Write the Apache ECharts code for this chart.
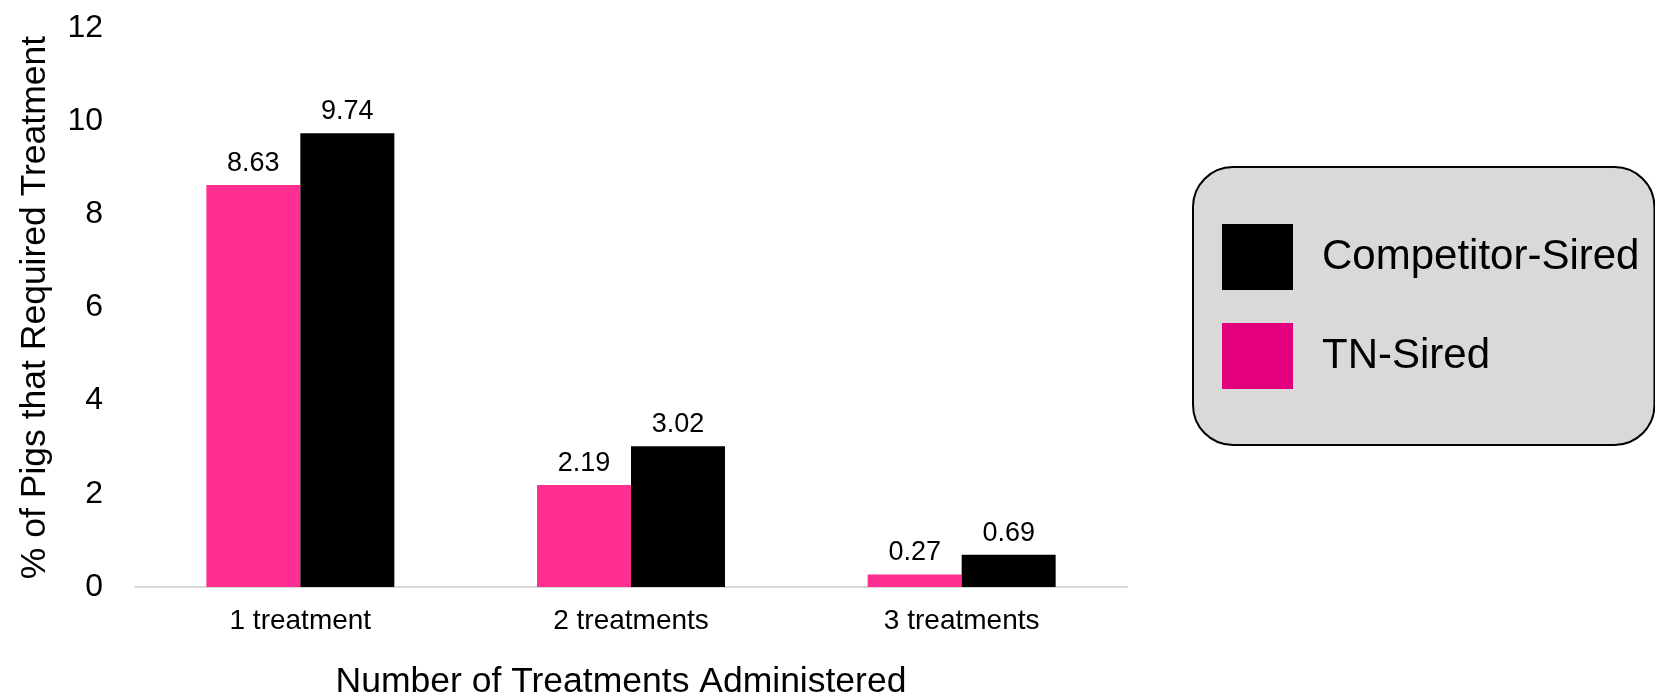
<!DOCTYPE html>
<html>
<head>
<meta charset="utf-8">
<script src="https://cdn.jsdelivr.net/npm/echarts@6/dist/echarts.min.js"></script>
<style>
  html, body { margin: 0; padding: 0; background: #ffffff; }
  #chart { width: 1655px; height: 695px; }
</style>
</head>
<body>
<div id="chart"></div>
<script>
// Treatment counts on the x axis
const categories = ['1 treatment', '2 treatments', '3 treatments'];
// % of pigs per sire line
const tnSired = [8.63, 2.19, 0.27];
const competitorSired = [9.74, 3.02, 0.69];
// Value axis ticks
const yTicks = [0, 2, 4, 6, 8, 10, 12];

const FONT = "'Liberation Sans', Arial, sans-serif";
const PINK = '#FF2F92';
const PINK_KEY = '#E4007C';
const BLACK = '#000000';

const chart = echarts.init(document.getElementById('chart'), null, { renderer: 'canvas' });

const valueLabel = {
  show: true,
  position: 'top',
  distance: 8,
  color: '#000',
  fontFamily: FONT,
  fontSize: 27,
  formatter: p => p.value.toFixed(2)
};

chart.setOption({
  animation: false,
  backgroundColor: '#ffffff',
  textStyle: { fontFamily: FONT },
  grid: {
    left: 135, right: 528, top: 28, bottom: 108,
    containLabel: false,
    outerBoundsMode: 'none'
  },
  legend: {
    orient: 'vertical',
    left: 1193,
    top: 167,
    data: [
      { name: 'Competitor-Sired', itemStyle: { color: BLACK } },
      { name: 'TN-Sired', itemStyle: { color: PINK_KEY } }
    ],
    icon: 'rect',
    itemWidth: 71,
    itemHeight: 66,
    itemGap: 33,
    padding: [57, 15, 56, 29],
    backgroundColor: '#D9D9D9',
    borderColor: '#000000',
    borderWidth: 2,
    borderRadius: 40,
    textStyle: { color: '#000', fontFamily: FONT, fontSize: 42, padding: [4, 0, 0, 24] }
  },
  xAxis: {
    type: 'category',
    data: categories,
    name: 'Number of Treatments Administered',
    nameLocation: 'middle',
    nameGap: 77,
    nameTextStyle: { color: '#000', fontFamily: FONT, fontSize: 35.5, padding: [0, 20, 0, 0] },
    axisLine: { show: true, lineStyle: { color: '#D9D9D9', width: 2 } },
    axisTick: { show: false },
    axisLabel: { color: '#000', fontFamily: FONT, fontSize: 28, margin: 20 }
  },
  yAxis: {
    type: 'value',
    min: yTicks[0],
    max: yTicks[yTicks.length - 1],
    interval: yTicks[1] - yTicks[0],
    name: '% of Pigs that Required Treatment',
    nameLocation: 'middle',
    nameGap: 82,
    nameTextStyle: { color: '#000', fontFamily: FONT, fontSize: 35.5 },
    axisLine: { show: false },
    axisTick: { show: false },
    splitLine: { show: false },
    axisLabel: { color: '#000', fontFamily: FONT, fontSize: 32, margin: 32 }
  },
  series: [
    {
      name: 'TN-Sired',
      type: 'bar',
      data: tnSired,
      barWidth: 94,
      barGap: '0%',
      itemStyle: { color: PINK },
      label: valueLabel
    },
    {
      name: 'Competitor-Sired',
      type: 'bar',
      data: competitorSired,
      barWidth: 94,
      barGap: '0%',
      itemStyle: { color: BLACK },
      label: valueLabel
    }
  ]
});
</script>
</body>
</html>
